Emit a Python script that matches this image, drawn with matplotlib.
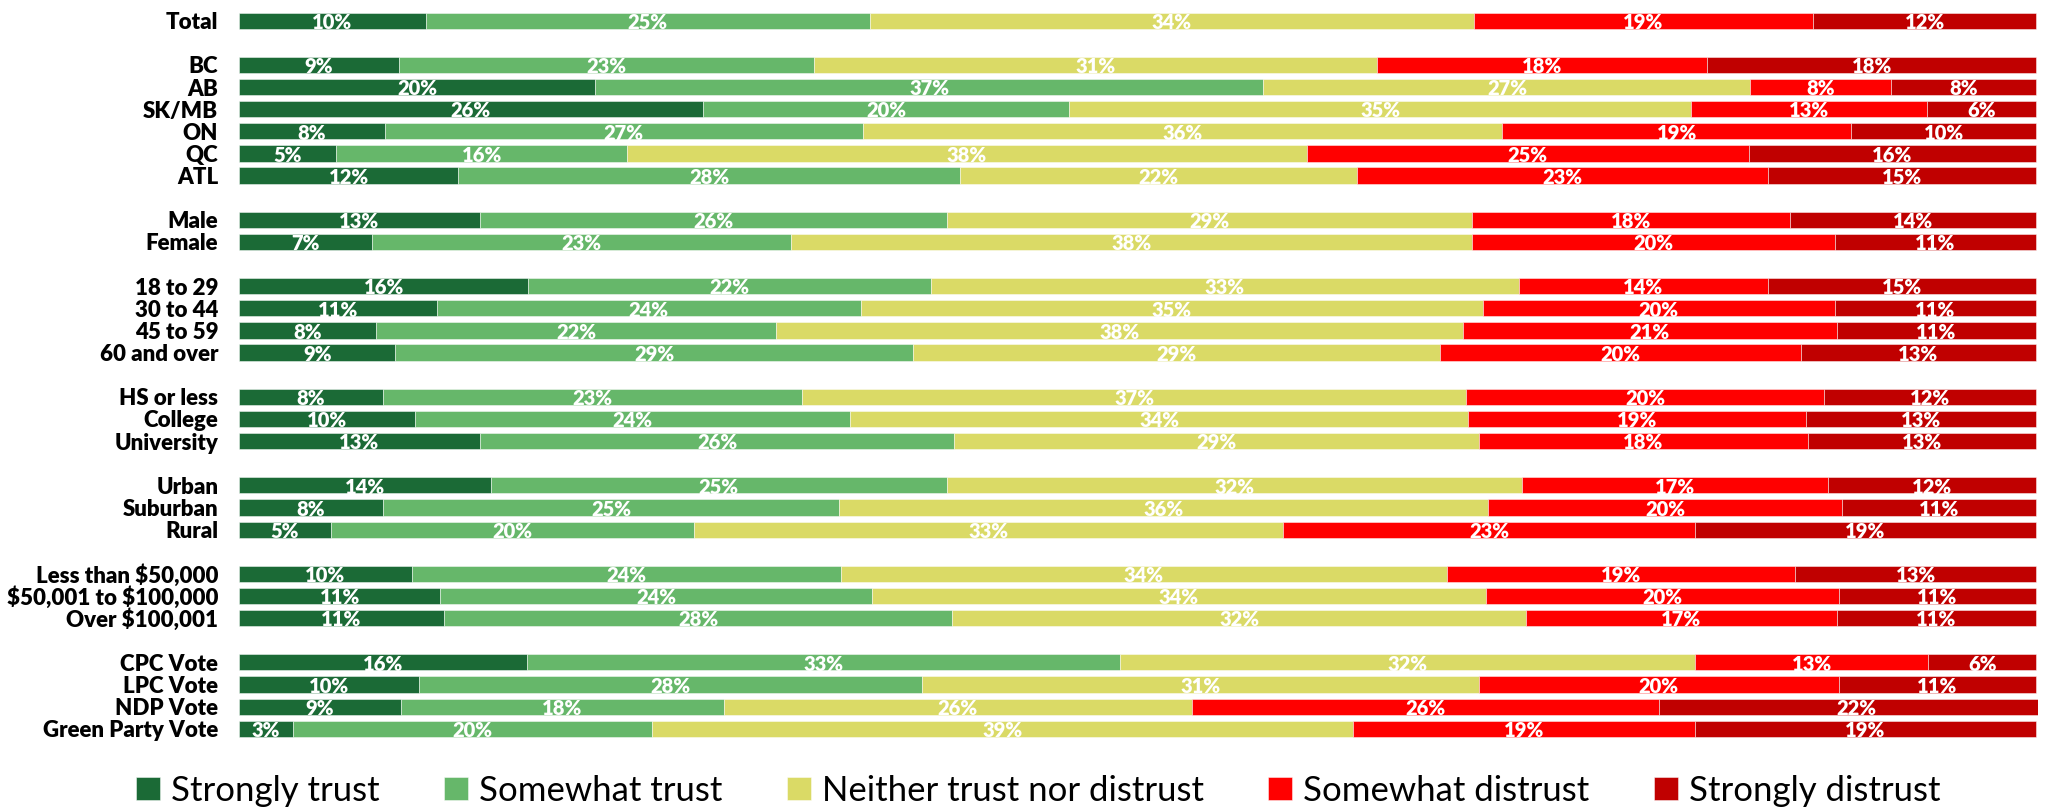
import matplotlib
matplotlib.use("Agg")
import matplotlib.pyplot as plt
from matplotlib import font_manager as fm

# ---------------- data ----------------
groups = [
    ["Total"],
    ["BC", "AB", "SK/MB", "ON", "QC", "ATL"],
    ["Male", "Female"],
    ["18 to 29", "30 to 44", "45 to 59", "60 and over"],
    ["HS or less", "College", "University"],
    ["Urban", "Suburban", "Rural"],
    ["Less than $50,000", "$50,001 to $100,000", "Over $100,001"],
    ["CPC Vote", "LPC Vote", "NDP Vote", "Green Party Vote"],
]

series_names = ["Strongly trust", "Somewhat trust", "Neither trust nor distrust",
                "Somewhat distrust", "Strongly distrust"]

strongly_trust = [10.4, 8.9, 19.8, 25.8, 8.1, 5.4, 12.2, 13.4, 7.4, 16.1, 11.0, 7.6, 8.7,
                  8.0, 9.8, 13.4, 14.0, 8.0, 5.1, 9.6, 11.2, 11.4, 16.0, 10.0, 9.0, 3.0]
somewhat_trust = [24.7, 23.1, 37.2, 20.4, 26.6, 16.2, 27.9, 26.0, 23.3, 22.4, 23.6, 22.3, 28.8,
                  23.3, 24.2, 26.4, 25.4, 25.4, 20.2, 23.9, 24.0, 28.3, 33.0, 28.0, 18.0, 20.0]
neither = [33.6, 31.3, 27.1, 34.6, 35.6, 37.8, 22.1, 29.2, 37.9, 32.7, 34.6, 38.2, 29.3,
           37.0, 34.4, 29.2, 32.0, 36.1, 32.8, 33.7, 34.2, 31.9, 32.0, 31.0, 26.0, 39.0]
somewhat_distrust = [18.9, 18.4, 7.8, 13.1, 19.4, 24.6, 22.9, 17.7, 20.2, 13.9, 19.6, 20.8, 20.1,
                     19.9, 18.8, 18.3, 17.0, 19.7, 22.9, 19.4, 19.6, 17.3, 13.0, 20.0, 26.0, 19.0]
strongly_distrust = [12.4, 18.3, 8.1, 6.1, 10.3, 16.0, 14.9, 13.7, 11.2, 14.9, 11.2, 11.1, 13.1,
                     11.8, 12.8, 12.7, 11.6, 10.8, 19.0, 13.4, 11.0, 11.1, 6.0, 11.0, 22.0, 19.0]

colors = ["#1B6A36", "#66B76A", "#DADA66", "#FF0000", "#C00000"]

# ---------------- fonts ----------------
def pick(*names):
    for n in names:
        try:
            fm.findfont(fm.FontProperties(family=n), fallback_to_default=False)
            return n
        except Exception:
            pass
    return "DejaVu Sans"

label_font = pick("Lato", "Open Sans", "DejaVu Sans")

# ---------------- layout positions ----------------
categories = []
ypos = []
p = 0
for gi, g in enumerate(groups):
    if gi > 0:
        p += 1
    for c in g:
        categories.append(c)
        ypos.append(p)
        p += 1
nrows = p

W, H = 2045, 810
fig = plt.figure(figsize=(W / 100, H / 100), dpi=100)
top_px, bot_px = 9.6, 739.8
ax = fig.add_axes([239 / W, 1 - bot_px / H, (2038 - 239) / W, (bot_px - top_px) / H])

data = [strongly_trust, somewhat_trust, neither, somewhat_distrust, strongly_distrust]
left = [0.0] * len(categories)
handles = []
for name, vals, col in zip(series_names, data, colors):
    bars = ax.barh(ypos, vals, left=left, height=0.73, color=col,
                   edgecolor=(1, 1, 1, 0.55), linewidth=0.6, label=name)
    handles.append(bars)
    for y, l, v in zip(ypos, left, vals):
        ax.text(l + v / 2, y + 0.08, f"{v:.0f}%", ha="center", va="center",
                color="white", fontsize=14.5, fontweight="heavy", family=label_font)
    left = [a + b for a, b in zip(left, vals)]

ax.set_xlim(0, 100.1)
ax.set_ylim(nrows - 0.5, -0.5)
ax.set_yticks(ypos)
ax.set_yticklabels(categories, fontsize=16, fontweight="heavy", family=label_font)
for t in ax.get_yticklabels():
    t.set_parse_math(False)
ax.tick_params(axis="y", length=0, pad=15)
ax.set_xticks([])
for s in ax.spines.values():
    s.set_visible(False)

fig.legend(handles, series_names, loc="center", bbox_to_anchor=(0.5078, 1 - 791 / H),
           ncol=5, frameon=False, prop={"family": label_font, "size": 25},
           handlelength=0.69, handleheight=0.63, handletextpad=0.32,
           columnspacing=1.85, borderpad=0)

fig.savefig("out.png", dpi=100)
